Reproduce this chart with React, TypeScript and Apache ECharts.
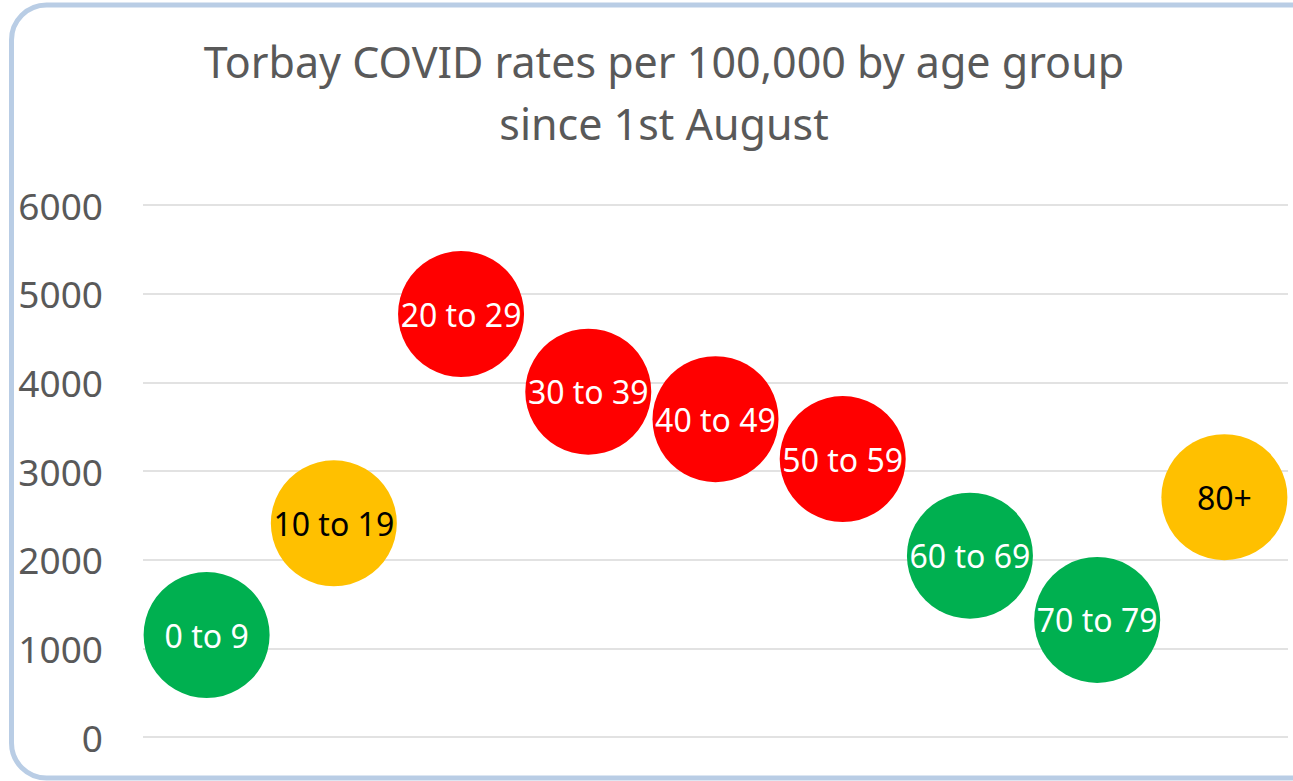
import React, { useEffect, useRef } from "react";
import * as echarts from "echarts";

const categories = ["0 to 9", "10 to 19", "20 to 29", "30 to 39", "40 to 49", "50 to 59", "60 to 69", "70 to 79", "80+"];
const rates = [1150, 2410, 4770, 3895, 3585, 3135, 2045, 1320, 2705];
const bands = ["green", "amber", "red", "red", "red", "red", "green", "green", "amber"];
const yTicks = [0, 1000, 2000, 3000, 4000, 5000, 6000];
const titleLines = ["Torbay COVID rates per 100,000 by age group", "since 1st August"];

const bandFill: Record<string, string> = { green: "#00B050", amber: "#FFC000", red: "#FF0000" };
const bandText: Record<string, string> = { green: "#FFFFFF", amber: "#000000", red: "#FFFFFF" };
const FONT = "'Noto Sans', 'Open Sans', sans-serif";

export default function App() {
  const ref = useRef<HTMLDivElement>(null);
  useEffect(() => {
    if (!ref.current) return;
    const chart = echarts.init(ref.current, undefined, { renderer: "svg" });
    chart.setOption({
      animation: false,
      backgroundColor: "#FFFFFF",
      title: {
        text: titleLines.join("\n"),
        left: 659,
        top: 25,
        textAlign: "center",
        textStyle: { fontFamily: FONT, fontSize: 43, fontWeight: "normal", color: "#595959", lineHeight: 62 },
      },
      graphic: [
        {
          type: "rect",
          shape: { x: 11.5, y: 5, width: 1320, height: 773, r: 35 },
          style: { fill: "none", stroke: "#B9CDE5", lineWidth: 5 },
          silent: true,
          z: 100,
        },
      ],
      grid: { left: 143, right: 5, top: 205, bottom: 44 },
      xAxis: {
        type: "category",
        data: categories,
        boundaryGap: true,
        axisLine: { show: false },
        axisTick: { show: false },
        axisLabel: { show: false },
        splitLine: { show: false },
      },
      yAxis: {
        type: "value",
        min: yTicks[0],
        max: yTicks[yTicks.length - 1],
        interval: 1000,
        axisLine: { show: false },
        axisTick: { show: false },
        axisLabel: {
          margin: 40,
          fontFamily: FONT,
          fontSize: 37,
          color: "#595959",
          formatter: (v: number) => String(v),
        },
        splitLine: { lineStyle: { color: "#D9D9D9", width: 1.5 } },
      },
      series: [
        {
          type: "scatter",
          symbol: "circle",
          symbolSize: 126,
          itemStyle: { opacity: 1 },
          emphasis: { disabled: true },
          data: rates.map((v, i) => ({
            value: [categories[i], v],
            itemStyle: { color: bandFill[bands[i]], opacity: 1 },
            label: { color: bandText[bands[i]] },
          })),
          label: {
            show: true,
            position: "inside",
            formatter: (p: any) => p.value[0],
            fontFamily: FONT,
            fontSize: 32,
          },
        },
      ],
    });
    return () => chart.dispose();
  }, []);
  return <div ref={ref} style={{ position: "fixed", left: 0, top: 0, width: 1293, height: 781 }} />;
}
